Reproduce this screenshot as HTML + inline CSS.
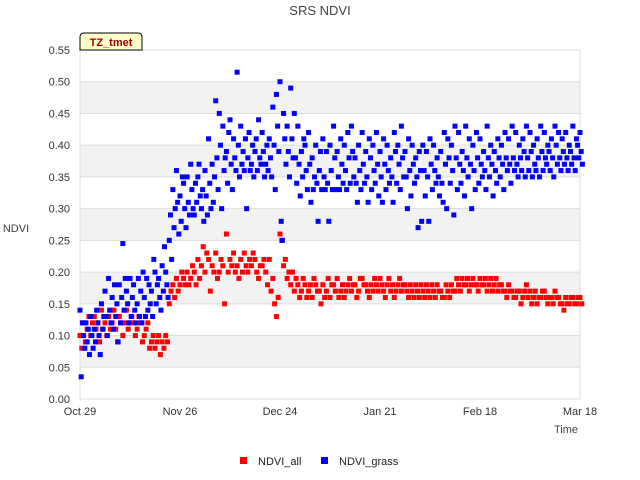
<!DOCTYPE html>
<html><head><meta charset="utf-8"><style>
body{margin:0;background:#fff;}
svg{font-family:"Liberation Sans",sans-serif;display:block}
</style></head><body>
<svg id="c" width="640" height="480">
<text x="320" y="15" text-anchor="middle" font-size="13" fill="#444">SRS NDVI</text>
<g id="bands"></g>
<rect x="80" y="50" width="500" height="349" fill="none" stroke="#ddd"/>
<g id="yt"></g><g id="xt"></g>
<g id="pts"></g>
<text x="16" y="232" text-anchor="middle" font-size="11" fill="#444">NDVI</text>
<text x="578" y="433" text-anchor="end" font-size="11" fill="#444">Time</text>
<g>
<path d="M80,50 L80,37 Q80,33 84,33 L138,33 Q142,33 142,37 L142,50 Z" fill="#ffffcc" stroke="#000"/>
<text x="111" y="46" text-anchor="middle" font-size="11" font-weight="bold" fill="#a00000">TZ_tmet</text>
</g>
<g>
<rect x="240" y="457" width="7" height="7" fill="#f00"/>
<text x="258" y="465" font-size="11" fill="#222">NDVI_all</text>
<rect x="321" y="457" width="7" height="7" fill="#00f"/>
<text x="339" y="465" font-size="11" fill="#222">NDVI_grass</text>
</g>
</svg>
<script>
const yTicks=[0,0.05,0.1,0.15,0.2,0.25,0.3,0.35,0.4,0.45,0.5,0.55];
const xTickDays=[0,28,56,84,112,140];
const xTickLabels=["Oct 29","Nov 26","Dec 24","Jan 21","Feb 18","Mar 18"];
const ndviAll=[[.10,.08],[.12,.09],[.11,.13],[.10,.12],[.13,.11],[.12,.09],[.14,.11],
[.12,.10],[.13,.11],[.12,.14],[.11,.09],[.13,.12],[.10,.12],[.14,.11],[.12,.13],
[.12,.10],[.11,.13],[.12,.09],[.10,.11],[.12,.08],[.09,.10],
[.08,.09],[.10,.07],[.09,.08],[.10,.09],
[.15,.17],[.18,.16],[.19,.17],[.18,.20],[.19,.18],[.20,.18],
[.19,.21],[.20,.18],[.22,.19],[.21,.24],[.20,.23],[.22,.17],[.21,.20],[.23,.19],[.20,.22],[.21,.15],
[.26,.20],[.22,.21],[.23,.20],[.21,.19],[.22,.20],[.23,.21],[.20,.22],[.21,.23],[.22,.20],[.19,.21],[.21,.22],[.20,.18],[.22,.17],[.19,.15],[.13,.16],[.26,.25],
[.21,.22],[.19,.20],[.18,.20],[.17,.19],[.18,.16],[.17,.19],[.18,.16],
[.17,.18],[.16,.19],[.18,.17],[.17,.15],[.18,.16],[.17,.19],[.16,.18],[.18,.17],[.19,.16],[.17,.18],[.16,.17],[.18,.19],
[.17,.18],[.18,.16],[.17,.19],[.19,.18],[.18,.17],[.16,.18],[.17,.19],[.18,.17],[.19,.18],[.17,.16],[.18,.19],[.17,.18],[.16,.17],[.18,.19],[.17,.18],
[.18,.17],[.16,.18],[.17,.16],[.18,.17],[.16,.18],[.17,.16],[.18,.17],[.16,.18],[.17,.16],[.18,.17],[.17,.16],[.16,.18],[.17,.16],[.18,.17],[.17,.19],
[.18,.17],[.19,.18],[.18,.19],[.17,.18],[.19,.18],[.18,.17],[.19,.18],[.18,.19],[.17,.18],[.19,.17],[.18,.19],[.17,.18],[.18,.17],[.17,.16],[.18,.17],
[.17,.16],[.16,.17],[.17,.15],[.16,.17],[.18,.16],[.17,.15],[.16,.17],[.15,.16],[.16,.17],[.17,.16],[.15,.16],[.16,.15],[.17,.16],[.16,.15],[.15,.14],[.16,.15],[.15,.16],[.16,.15],[.15,.16],[.16,.15]];
const ndviGrass=[[.14,.035,.12],[.10,.08,.12],[.09,.11,.07],[.13,.10,.08],[.11,.09,.14],[.12,.10,.07],[.15,.11,.13],
[.17,.13,.10],[.19,.14,.12],[.16,.11,.18],[.13,.15,.09],[.18,.12,.16],[.245,.14,.19],[.17,.15,.12],[.19,.13,.16],
[.18,.14,.12],[.15,.19,.13],[.17,.12,.20],[.16,.13,.19],[.14,.18,.15],[.17,.13,.22],[.20,.15,.18],[.19,.16,.14],[.21,.17,.24],[.20,.18,.16],
[.25,.29,.22],[.33,.27,.30],[.36,.31,.26],[.32,.28,.35],[.34,.30,.27],[.35,.31,.29],[.37,.33,.30],[.29,.34,.31],[.35,.37,.32],[.30,.33,.28],
[.36,.32,.29],[.41,.34,.30],[.37,.31,.35],[.47,.38,.33],[.45,.40,.30],[.43,.36,.38],[.39,.34,.42],[.44,.37,.33],[.41,.38,.36],[.515,.40,.35],[.43,.37,.39],
[.36,.41,.30],[.38,.42,.36],[.37,.40,.35],[.39,.41,.36],[.44,.38,.37],[.42,.39,.35],[.37,.40,.36],[.41,.38,.35],[.46,.40,.33],[.48,.43,.39],[.50,.28,.25],
[.45,.41,.37],[.43,.39,.35],[.49,.41,.38],[.45,.38,.34],[.43,.37,.32],[.39,.35,.41],
[.40,.36,.33],[.42,.37,.31],[.38,.33,.35],[.40,.34,.28],[.36,.39,.33],[.41,.35,.33],[.39,.34,.28],[.40,.36,.33],[.43,.38,.33],[.39,.35,.33],[.41,.37,.34],[.40,.36,.33],[.42,.38,.34],
[.43,.39,.35],[.38,.34,.31],[.40,.36,.33],[.42,.37,.34],[.39,.35,.31],[.41,.38,.33],[.40,.36,.34],[.42,.37,.32],[.39,.35,.31],[.41,.37,.33],[.40,.36,.34],[.38,.35,.31],[.42,.39,.34],[.40,.37,.33],[.43,.38,.35],
[.39,.35,.30],[.41,.36,.32],[.40,.37,.34],[.38,.35,.27],[.39,.36,.28],[.40,.36,.32],[.39,.35,.28],[.41,.37,.33],[.40,.36,.34],[.38,.35,.32],[.39,.34,.31],[.42,.37,.30],[.41,.38,.34],[.40,.36,.29],[.43,.38,.33],
[.42,.37,.34],[.39,.36,.32],[.43,.38,.35],[.41,.37,.30],[.40,.36,.33],[.42,.38,.34],[.41,.37,.35],[.39,.36,.33],[.43,.38,.35],[.40,.37,.32],[.39,.36,.34],[.41,.38,.35],[.40,.37,.33],[.42,.38,.36],[.41,.37,.34],
[.43,.38,.36],[.42,.37,.35],[.40,.38,.36],[.41,.39,.35],[.43,.38,.36],[.42,.39,.35],[.40,.37,.36],[.41,.38,.35],[.43,.39,.36],[.42,.38,.37],[.40,.39,.36],[.41,.38,.35],[.43,.40,.37],[.42,.38,.36],[.41,.39,.37],[.42,.38,.36],[.40,.39,.37],[.43,.38,.36],[.41,.40,.38],[.42,.39,.37]];
const NS="http://www.w3.org/2000/svg";
const X0=80,X1=580,Y0=399,Y1=50,DAYS=140,YMAX=0.55;
function xs(d){return X0+d*(X1-X0)/DAYS;}
function ys(v){return Y0-v*(Y0-Y1)/YMAX;}
function mk(t,a,p){const e=document.createElementNS(NS,t);for(const k in a)e.setAttribute(k,a[k]);p.appendChild(e);return e;}
const bands=document.getElementById('bands');
for(let i=1;i<yTicks.length-1;i+=2){
 const r=mk('rect',{x:X0,y:ys(yTicks[i+1]),width:X1-X0,height:ys(yTicks[i])-ys(yTicks[i+1]),fill:'#f2f2f2'},bands);
 
 
}
const yt=document.getElementById('yt');
yTicks.forEach(v=>{
 const l=mk('line',{x1:X0,x2:X1,y1:ys(v),y2:ys(v),stroke:'#ddd'},yt);
 
 
 const t=mk('text',{x:X0-10,y:ys(v)+4,'text-anchor':'end','font-size':11,fill:'#333'},yt);
 t.textContent=v.toFixed(2);
 
 
});
const xt=document.getElementById('xt');
xTickDays.forEach((d,i)=>{
 const t=mk('text',{x:xs(d),y:Y0+16,'text-anchor':'middle','font-size':11,fill:'#333'},xt);
 t.textContent=xTickLabels[i];
 
 
});
const pts=document.getElementById('pts');
function draw(series,color,name){
 series.forEach((day,d)=>{
  day.forEach((v,k)=>{
   const r=mk('rect',{x:xs(d+k/day.length)-2.5,y:ys(v)-2.5,width:5,height:5,fill:color},pts);
   
   
  });
 });
}
draw(ndviAll,'#ff0000','point-ndvi-all');
draw(ndviGrass,'#0000ff','point-ndvi-grass');
</script>
</body></html>
